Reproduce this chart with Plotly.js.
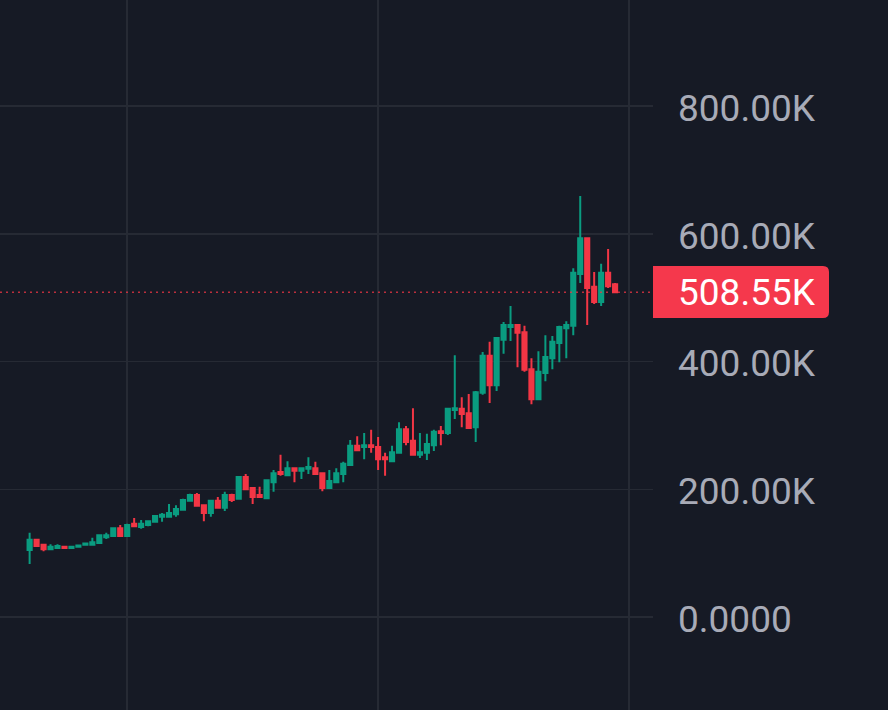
<!DOCTYPE html>
<html><head><meta charset="utf-8">
<script src="https://cdn.plot.ly/plotly-3.0.1.min.js"></script>
<style>html,body{margin:0;padding:0;background:#161a25}</style></head>
<body><div id="chart" style="width:888px;height:710px"></div>
<script>
const open_=[105,121,113,106,108,110,108,110,113,113,116,125,127,139,127,146,141,144,149,157,157,161,168,182,191,175,163,182,171,191,185,219,202,191,186,211,227,222,233,229,232,233,225,202,211,224,238,268,266,269,266,250,244,257,294,276,254,257,269,291,288,324,326,319,297,351,409,363,434,454,457,446,388,341,382,405,429,452,456,537,593,517,493,539,521];
const high_=[132,121,113,114,114,110.5,110.5,112,115,124,128.5,132,139,144,146,155,152,150,158,163,177,175,185,193,194,175,182,188,196,193,219,224,202,204,214,230,254,244,233,233,250,243,225,230,233,243,277,283,288,293,282,257,268,305,299,327,288,287,293,299,326,410,344,349,354,415,431,437,462,487,457,456,405,416,441,440,456,463,546,659,593,540,553,576,523];
const low_=[83,111,103,106,108,107.5,107.5,110,113,113,116,122,127,127,127,142,138,142,149,149,157,157,168,182,174,150,157,171,166,180,185,200,177,187,186,196,221,222,211,216,224,224,197,202,211,211,238,260,247,257,230,221,244,257,269,254,249,246,260,269,285,310,297,296,274,348,335,354,412,432,391,384,333,341,369,388,399,405,441,523,457,490,487,515,508.55];
const close_=[121,111,106,110,111,108,110,112,115,117,128,128,139,127,144,142,146,150,158,160,163,169,183,191,174,163,182,171,191,183,219,200,188,188,214,225,224,233,229,233,235,224,202,213,225,240,268,261,269,266,247,247,258,294,274,254,258,271,290,288,326,327,318,296,352,409,363,437,457,457,445,387,341,384,407,431,454,457,539,593,515,493,539,518,508.55];
const yTickValues=[0,200,400,600,800];
const yTickLabels=['0.0000','200.00K','400.00K','600.00K','800.00K'];
const xGridPositions=[14,50,86];
const lastPrice=508.55;
const lastLabel='508.55K';
const xs=open_.map((_,i)=>i);
const W=653,H=710;
const px=v=>v/W, py=v=>1-v/H;
const tagPath=`M ${px(653)} ${py(266)} L ${px(823)} ${py(266)} Q ${px(829)} ${py(266)} ${px(829)} ${py(272)} L ${px(829)} ${py(312)} Q ${px(829)} ${py(318)} ${px(823)} ${py(318)} L ${px(653)} ${py(318)} Z`;
Plotly.newPlot('chart',[{
  type:'candlestick',x:xs,open:open_,high:high_,low:low_,close:close_,
  increasing:{line:{color:'#0a9c80',width:2},fillcolor:'#0a9c80'},
  decreasing:{line:{color:'#f23645',width:2},fillcolor:'#f23645'},
  whiskerwidth:0,hoverinfo:'skip',showlegend:false
}],{
  width:888,height:710,margin:{l:0,r:235,t:0,b:0,pad:0},
  paper_bgcolor:'#161a25',plot_bgcolor:'#161a25',showlegend:false,boxgap:0.15,
  xaxis:{type:'linear',range:[-4.25,89.44],tickmode:'array',tickvals:xGridPositions,showticklabels:false,ticks:'',
    showgrid:true,gridcolor:'#262a34',gridwidth:1.5,zeroline:false,showline:false,rangeslider:{visible:false},fixedrange:true},
  yaxis:{side:'right',range:[-145.6,966],tickmode:'array',tickvals:yTickValues,ticktext:yTickLabels,ticks:'',
    ticklabelstandoff:24,ticklabelshift:2,tickfont:{family:'Roboto',size:37,color:'#a8abb7'},
    showgrid:true,gridcolor:'#262a34',gridwidth:1.5,zeroline:false,showline:false,fixedrange:true},
  shapes:[
    {type:'line',xref:'paper',yref:'y',x0:0,x1:1,y0:lastPrice,y1:lastPrice,line:{color:'#f23645',width:1.5,dash:'2px,4px'},opacity:0.75,layer:'above'},
    {type:'path',xref:'paper',yref:'paper',path:tagPath,fillcolor:'#f5384c',line:{width:0},layer:'above'}
  ],
  annotations:[{xref:'paper',yref:'y',x:px(677),y:lastPrice-1,xanchor:'left',yanchor:'middle',showarrow:false,text:lastLabel,
    font:{family:'Roboto',size:37,color:'#ffffff'},borderpad:0}]
},{staticPlot:true,displayModeBar:false});
</script></body></html>
